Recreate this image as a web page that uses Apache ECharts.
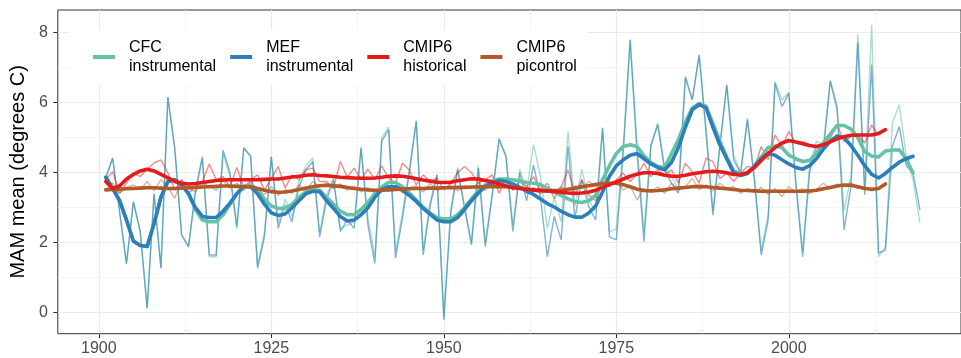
<!DOCTYPE html>
<html>
<head>
<meta charset="utf-8">
<title>MAM mean</title>
<script src="https://cdn.jsdelivr.net/npm/echarts@6.0.0/dist/echarts.min.js"></script>
<style>
  html, body { margin: 0; padding: 0; background: #fff; }
  #chart { width: 961px; height: 358px; }
</style>
</head>
<body>
<div id="chart"></div>
<script>
  // first year of every series
  const firstYear = 1901;

  // annual values, CFC instrumental 1901-2019
  const cfcAnnual = [
    3.85, 4.42, 2.9, 1.4, 3.17, 2.32, 0.13, 3.4, 1.27, 6.16,
    4.7, 2.22, 1.89, 3.4, 4.4, 1.6, 1.6, 4.55, 3.9, 2.4,
    4.72, 4.5, 1.35, 2.3, 4.45, 2.55, 3.25, 2.75, 3.75, 4.2,
    4.42, 2.3, 3.35, 3.85, 2.4, 2.5, 2.6, 4.75, 2.7, 1.6,
    5.0, 5.3, 1.75, 2.85, 4.1, 5.5, 1.8, 3.15, 3.95, -0.1,
    2.95, 4.15, 3.05, 2.0, 4.2, 2.0, 3.4, 5.0, 4.5, 2.5,
    4.1, 3.5, 4.8, 3.9, 2.4, 3.3, 2.6, 5.18, 3.05, 4.1,
    3.2, 2.9, 5.3, 2.3, 2.4, 4.8, 7.8, 4.8, 2.3, 4.8,
    5.42, 4.15, 3.9, 3.5, 6.7, 6.1, 7.35, 5.3, 2.9, 4.8,
    6.5, 4.5, 4.0, 5.56, 3.9, 1.75, 2.8, 6.61, 6.08, 6.3,
    3.8, 1.75, 4.2, 4.9, 4.8, 6.65, 5.9, 2.9, 3.9, 7.95,
    3.6, 8.23, 1.6, 1.88, 5.42, 5.94, 4.5, 3.8, 2.57
  ];

  // annual values, MEF instrumental 1901-2019
  const mefAnnual = [
    3.85, 4.42, 2.9, 1.4, 3.17, 2.32, 0.13, 3.4, 1.27, 6.16,
    4.7, 2.22, 1.89, 3.5, 4.46, 1.65, 1.65, 4.65, 4.0, 2.46,
    4.7, 4.46, 1.27, 2.17, 4.46, 2.41, 3.08, 2.6, 3.6, 4.08,
    4.32, 2.17, 3.22, 3.8, 2.32, 2.65, 2.41, 4.7, 2.5, 1.41,
    4.9, 5.23, 1.56, 2.7, 4.0, 5.46, 1.65, 3.03, 3.94, -0.21,
    2.84, 4.08, 2.99, 1.94, 4.13, 1.89, 3.32, 4.94, 4.46, 2.32,
    4.0, 3.2, 4.22, 3.3, 1.6, 2.75, 2.08, 4.75, 2.7, 3.8,
    3.03, 2.65, 5.27, 2.17, 2.08, 4.56, 7.8, 4.56, 2.03, 4.75,
    5.37, 4.08, 3.7, 3.41, 6.75, 6.08, 7.37, 5.13, 2.79, 4.75,
    6.51, 4.37, 3.99, 5.51, 3.8, 1.65, 2.65, 6.56, 5.89, 6.27,
    3.7, 1.6, 4.0, 4.75, 4.6, 6.61, 5.8, 2.37, 3.6, 7.71,
    3.37, 7.09, 1.7, 1.79, 4.75, 5.32, 4.2, 3.99, 2.94
  ];

  // annual values, CMIP6 historical 1901-2014
  const histAnnual = [
    3.8, 4.03, 3.41, 3.7, 3.99, 3.89, 4.1, 4.28, 4.37, 4.0,
    3.51, 3.8, 3.41, 3.6, 3.75, 4.25, 3.8, 3.89, 3.6, 4.15,
    3.56, 3.8, 3.94, 3.51, 3.84, 4.18, 3.56, 3.94, 3.8, 4.08,
    4.13, 3.75, 3.75, 3.56, 4.32, 3.87, 4.13, 3.8, 4.1, 3.8,
    4.2, 3.84, 3.7, 4.27, 4.08, 3.65, 3.94, 3.75, 3.84, 3.51,
    3.7, 4.0, 4.18, 4.0, 3.7, 3.8, 3.94, 3.41, 3.87, 3.51,
    3.75, 3.6, 3.89, 3.51, 3.7, 3.27, 3.6, 4.08, 3.37, 3.8,
    3.37, 3.2, 3.7, 3.6, 3.8, 3.99, 3.75, 3.94, 4.27, 3.89,
    4.08, 3.94, 4.08, 3.7, 4.27, 4.03, 3.7, 4.42, 4.32, 3.84,
    3.99, 3.75, 3.99, 4.18, 4.13, 4.75, 4.37, 5.08, 4.75, 5.18,
    4.85, 4.89, 4.8, 4.75, 4.85, 4.99, 5.37, 4.89, 5.04, 5.08,
    4.85, 5.37, 5.08, 5.23
  ];

  // annual values, CMIP6 picontrol 1901-2014
  const piAnnual = [
    3.51, 3.72, 3.41, 3.58, 3.65, 3.52, 3.75, 3.48, 3.8, 3.6,
    3.27, 3.8, 3.55, 3.45, 3.7, 3.62, 3.5, 3.78, 3.55, 3.7,
    3.48, 3.75, 3.5, 3.38, 3.6, 3.35, 3.52, 3.42, 3.65, 3.5,
    3.75, 3.6, 3.7, 3.55, 3.68, 3.5, 3.62, 3.45, 3.58, 3.4,
    3.6, 3.48, 3.65, 3.42, 3.58, 3.62, 3.45, 3.7, 3.5, 3.55,
    3.65, 3.48, 3.62, 3.55, 3.7, 3.5, 3.66, 3.55, 3.68, 3.5,
    3.62, 3.42, 3.58, 3.4, 3.55, 3.45, 3.6, 3.42, 3.62, 3.55,
    3.75, 3.62, 3.8, 3.65, 3.78, 3.5, 3.62, 3.22, 3.55, 3.45,
    3.6, 3.41, 3.7, 3.5, 3.6, 3.84, 3.52, 3.65, 3.48, 3.7,
    3.55, 3.6, 3.41, 3.55, 3.45, 3.58, 3.38, 3.55, 3.32, 3.6,
    3.45, 3.55, 3.4, 3.52, 3.7, 3.55, 3.68, 3.6, 3.72, 3.55,
    3.6, 3.48, 3.55, 3.7
  ];

  // smoothed curves
  const cfcSmooth = [
    3.87, 3.55, 3.2, 2.65, 2.05, 1.92, 1.89, 2.55, 3.3, 3.75,
    3.8, 3.65, 3.4, 2.95, 2.65, 2.6, 2.6, 2.8, 3.1, 3.4,
    3.62, 3.65, 3.5, 3.25, 3.05, 2.98, 2.98, 3.1, 3.3, 3.45,
    3.5, 3.5, 3.3, 3.1, 2.9, 2.8, 2.8, 2.95, 3.15, 3.4,
    3.6, 3.72, 3.72, 3.6, 3.42, 3.22, 3.02, 2.85, 2.72, 2.68,
    2.68, 2.8, 3.0, 3.25, 3.48, 3.65, 3.76, 3.82, 3.82, 3.8,
    3.76, 3.72, 3.7, 3.66, 3.55, 3.45, 3.35, 3.25, 3.18, 3.15,
    3.2, 3.35, 3.8, 4.2, 4.55, 4.75, 4.8, 4.75, 4.48, 4.3,
    4.18, 4.15, 4.55, 4.95, 5.45, 5.85, 5.98, 5.9, 5.4, 4.9,
    4.45, 4.05, 3.98, 3.99, 4.2, 4.45, 4.72, 4.76, 4.72, 4.5,
    4.4, 4.32, 4.35, 4.55, 4.85, 5.1, 5.35, 5.35, 5.25, 5.0,
    4.6, 4.48, 4.45, 4.62, 4.65, 4.65, 4.4, 3.99
  ];

  const mefSmooth = [
    3.87, 3.55, 3.2, 2.65, 2.05, 1.92, 1.89, 2.55, 3.3, 3.75,
    3.8, 3.65, 3.4, 3.0, 2.75, 2.72, 2.72, 2.9, 3.13, 3.4,
    3.6, 3.6, 3.4, 3.1, 2.85, 2.78, 2.82, 3.0, 3.2, 3.4,
    3.47, 3.46, 3.2, 2.98, 2.75, 2.62, 2.65, 2.8, 3.0, 3.3,
    3.52, 3.6, 3.6, 3.5, 3.35, 3.18, 2.98, 2.82, 2.65, 2.6,
    2.6, 2.72, 2.95, 3.2, 3.42, 3.6, 3.7, 3.78, 3.75, 3.68,
    3.58, 3.47, 3.38, 3.25, 3.12, 3.02, 2.9, 2.8, 2.73, 2.73,
    2.85, 3.05, 3.45, 3.9, 4.2, 4.37, 4.5, 4.55, 4.4, 4.25,
    4.15, 4.08, 4.3, 4.72, 5.3, 5.8, 5.95, 5.85, 5.3, 4.8,
    4.4, 4.0, 3.92, 3.98, 4.18, 4.4, 4.55, 4.5, 4.37, 4.25,
    4.15, 4.1, 4.2, 4.4, 4.68, 4.9, 5.05, 5.0, 4.78, 4.5,
    4.2, 3.95, 3.85, 3.98, 4.15, 4.3, 4.4, 4.47
  ];

  const histSmooth = [
    3.75, 3.55, 3.62, 3.82, 3.95, 4.05, 4.1, 4.05, 3.95, 3.85,
    3.75, 3.7, 3.68, 3.69, 3.72, 3.75, 3.78, 3.79, 3.8, 3.8,
    3.8, 3.8, 3.8, 3.81, 3.82, 3.82, 3.85, 3.88, 3.9, 3.93,
    3.94, 3.92, 3.91, 3.89, 3.87, 3.86, 3.85, 3.84, 3.84, 3.85,
    3.87, 3.9, 3.91, 3.9, 3.87, 3.83, 3.79, 3.76, 3.73, 3.72,
    3.73, 3.77, 3.8, 3.83, 3.82, 3.78, 3.74, 3.68, 3.62, 3.58,
    3.55, 3.53, 3.51, 3.5, 3.48, 3.46, 3.44, 3.42, 3.41, 3.42,
    3.45, 3.5, 3.58, 3.66, 3.74, 3.82, 3.9, 3.96, 4.0, 4.0,
    3.98, 3.93, 3.9, 3.9, 3.93, 3.97, 4.0, 4.03, 4.04, 4.03,
    4.0, 3.95, 3.95, 4.0, 4.15, 4.35, 4.55, 4.72, 4.85, 4.92,
    4.88, 4.83, 4.78, 4.75, 4.8, 4.88, 4.97, 5.03, 5.07, 5.08,
    5.08, 5.08, 5.12, 5.23
  ];

  const piSmooth = [
    3.51, 3.52, 3.53, 3.54, 3.55, 3.56, 3.57, 3.57, 3.56, 3.55,
    3.55, 3.56, 3.57, 3.58, 3.59, 3.6, 3.61, 3.62, 3.62, 3.61,
    3.6, 3.6, 3.55, 3.5, 3.46, 3.44, 3.45, 3.48, 3.52, 3.56,
    3.6, 3.63, 3.64, 3.63, 3.61, 3.58, 3.55, 3.53, 3.51, 3.5,
    3.5, 3.51, 3.52, 3.53, 3.54, 3.55, 3.55, 3.56, 3.56, 3.57,
    3.57, 3.58, 3.58, 3.59, 3.59, 3.6, 3.6, 3.6, 3.6, 3.58,
    3.56, 3.53, 3.5, 3.48, 3.48, 3.49, 3.5, 3.53, 3.56, 3.6,
    3.63, 3.66, 3.69, 3.7, 3.7, 3.66, 3.6, 3.53, 3.49, 3.48,
    3.49, 3.51, 3.54, 3.56, 3.58, 3.6, 3.61, 3.6, 3.58, 3.56,
    3.54, 3.52, 3.5, 3.49, 3.48, 3.47, 3.47, 3.47, 3.47, 3.47,
    3.47, 3.47, 3.48, 3.5, 3.54, 3.58, 3.62, 3.65, 3.64, 3.6,
    3.55, 3.53, 3.55, 3.68
  ];

  // ticks
  const xTicks = [1900, 1925, 1950, 1975, 2000];
  const xMinor = [1912.5, 1937.5, 1962.5, 1987.5, 2012.5];
  const yTicks = [0, 2, 4, 6, 8];
  const yMinor = [1, 3, 5, 7];

  const names = ['CFC\ninstrumental', 'MEF\ninstrumental', 'CMIP6\nhistorical', 'CMIP6\npicontrol'];
  const font = "'Liberation Sans', Arial, Helvetica, sans-serif";

  function toPairs(values) {
    return values.map(function (v, i) { return [firstYear + i, v]; });
  }

  function thin(name, data, color) {
    return {
      name: name, type: 'line', data: toPairs(data),
      showSymbol: false, symbol: 'none', silent: true,
      lineStyle: { width: 1.4, color: color },
      itemStyle: { color: color }
    };
  }

  function thick(name, data, color) {
    return {
      name: name, type: 'line', data: toPairs(data),
      showSymbol: false, symbol: 'none', silent: true,
      lineStyle: { width: 3.6, color: color, join: 'round', cap: 'round' },
      itemStyle: { color: color }
    };
  }

  const chart = echarts.init(document.getElementById('chart'), null, { renderer: 'canvas' });

  chart.setOption({
    animation: false,
    backgroundColor: '#fff',
    textStyle: { fontFamily: font },
    grid: {
      left: 55, top: 10, width: 918.3, height: 323.7,
      show: true, borderColor: '#333333', borderWidth: 1,
      backgroundColor: 'transparent'
    },
    legend: {
      data: names,
      left: 70, top: 30,
      orient: 'horizontal',
      icon: 'rect',
      itemWidth: 22, itemHeight: 4, itemGap: 14,
      backgroundColor: '#ffffff',
      padding: [8, 10, 8, 23],
      selectedMode: false,
      textStyle: { fontFamily: font, fontSize: 16, lineHeight: 19, color: '#000', padding: [0, 0, 0, 9] }
    },
    xAxis: [{
      type: 'value', min: 1894.05, max: 2024.95,
      axisLine: { show: false, onZero: false },
      axisTick: { show: true, length: 4.5, lineStyle: { color: '#333333', width: 1 }, customValues: xTicks },
      axisLabel: {
        customValues: xTicks, color: '#4d4d4d', fontSize: 16, margin: 7, fontFamily: font,
        formatter: function (v) { return String(v); }
      },
      splitLine: { show: true, lineStyle: { color: '#ebebeb', width: 1.2 } }
    }, {
      type: 'value', min: 1894.05, max: 2024.95, position: 'bottom',
      axisLine: { show: false, onZero: false },
      axisTick: { show: false, customValues: xMinor },
      axisLabel: { show: false, customValues: xMinor },
      splitLine: { show: true, lineStyle: { color: '#f2f2f2', width: 0.8 } }
    }],
    yAxis: [{
      type: 'value', min: -0.6, max: 8.65,
      name: 'MAM mean (degrees C)',
      nameLocation: 'middle', nameGap: 18, nameRotate: 90,
      nameTextStyle: { fontSize: 20, color: '#000', fontFamily: font },
      axisLine: { show: false, onZero: false },
      axisTick: { show: true, length: 4.5, lineStyle: { color: '#333333', width: 1 }, customValues: yTicks },
      axisLabel: { customValues: yTicks, color: '#4d4d4d', fontSize: 16, margin: 10, fontFamily: font },
      splitLine: { show: true, lineStyle: { color: '#ebebeb', width: 1.2 } }
    }, {
      type: 'value', min: -0.6, max: 8.65, position: 'left',
      axisLine: { show: false, onZero: false },
      axisTick: { show: false, customValues: yMinor },
      axisLabel: { show: false, customValues: yMinor },
      splitLine: { show: true, lineStyle: { color: '#f2f2f2', width: 0.8 } }
    }],
    series: [
      thin('CFC annual', cfcAnnual, 'rgba(102,194,165,0.55)'),
      thin('MEF annual', mefAnnual, 'rgba(44,127,184,0.6)'),
      thin('historical annual', histAnnual, 'rgba(227,26,28,0.5)'),
      thin('picontrol annual', piAnnual, 'rgba(177,89,40,0.45)'),
      thick(names[0], cfcSmooth, '#66c2a5'),
      thick(names[1], mefSmooth, '#2c7fb8'),
      thick(names[3], piSmooth, '#b15928'),
      thick(names[2], histSmooth, '#e41a1c')
    ]
  });
</script>
</body>
</html>
